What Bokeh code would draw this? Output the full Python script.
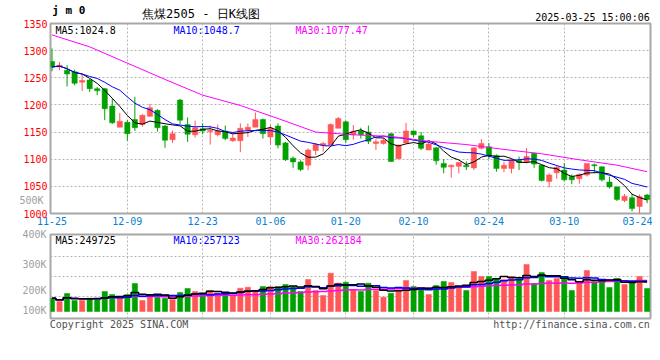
import numpy as np
import pandas as pd
from bokeh.plotting import figure
from bokeh.models import Range1d, FixedTicker, Label, ColumnDataSource, LinearAxis
from bokeh.layouts import column
from bokeh.embed import file_html
from bokeh.resources import INLINE

# ---------------- data ----------------
holidays = ["2025-01-01", "2025-01-28", "2025-01-29", "2025-01-30", "2025-01-31",
            "2025-02-03", "2025-02-04"]
dates = [d for d in pd.bdate_range("2024-11-25", "2025-03-25")
         if d.strftime("%Y-%m-%d") not in holidays]
tick_dates = ["2024-11-25", "2024-12-09", "2024-12-23", "2025-01-06", "2025-01-20",
              "2025-02-10", "2025-02-24", "2025-03-10", "2025-03-24"]

opens = [1280, 1270, 1264, 1261, 1242, 1246, 1230, 1230, 1198, 1159,
         1168, 1173, 1164, 1179, 1190, 1161, 1136, 1209, 1164, 1145,
         1156, 1151, 1145, 1152, 1134, 1134, 1154, 1159, 1173, 1141,
         1161, 1130, 1102, 1095, 1089, 1116, 1126, 1126, 1157, 1169,
         1145, 1152, 1150, 1129, 1129, 1147, 1101, 1130, 1152, 1143,
         1117, 1121, 1092, 1086, 1087, 1089, 1084, 1120, 1123, 1107,
         1083, 1083, 1098, 1095, 1111, 1089, 1059, 1075, 1080, 1068,
         1064, 1071, 1090, 1086, 1058, 1049, 1024, 1029, 1013, 1034]
highs = [1304, 1279, 1273, 1265, 1257, 1248, 1233, 1231, 1212, 1185,
         1172, 1215, 1183, 1202, 1192, 1163, 1153, 1211, 1177, 1171,
         1166, 1162, 1164, 1162, 1148, 1166, 1166, 1186, 1175, 1163,
         1166, 1132, 1105, 1098, 1120, 1130, 1132, 1166, 1178, 1171,
         1163, 1158, 1162, 1137, 1139, 1148, 1127, 1167, 1153, 1150,
         1132, 1122, 1100, 1090, 1095, 1096, 1122, 1137, 1130, 1109,
         1095, 1101, 1105, 1121, 1112, 1090, 1074, 1089, 1093, 1072,
         1074, 1092, 1092, 1087, 1068, 1050, 1036, 1036, 1035, 1036]
lows = [1262, 1264, 1234, 1236, 1226, 1224, 1218, 1172, 1165, 1159,
        1134, 1152, 1160, 1178, 1151, 1121, 1130, 1165, 1132, 1140,
        1146, 1127, 1142, 1135, 1132, 1113, 1141, 1159, 1138, 1127,
        1120, 1097, 1084, 1078, 1080, 1108, 1114, 1126, 1157, 1130,
        1136, 1138, 1128, 1117, 1127, 1095, 1100, 1129, 1140, 1117,
        1117, 1090, 1074, 1066, 1074, 1080, 1080, 1118, 1100, 1077,
        1076, 1074, 1080, 1092, 1084, 1059, 1048, 1064, 1059, 1054,
        1055, 1068, 1074, 1059, 1046, 1023, 1021, 1004, 998, 1019]
closes = [1270, 1273, 1257, 1240, 1245, 1230, 1226, 1193, 1167, 1170,
          1147, 1158, 1181, 1195, 1158, 1135, 1147, 1172, 1146, 1158,
          1152, 1153, 1152, 1138, 1139, 1157, 1159, 1173, 1147, 1157,
          1126, 1099, 1095, 1081, 1117, 1127, 1129, 1164, 1175, 1136,
          1151, 1145, 1133, 1132, 1135, 1096, 1126, 1152, 1145, 1120,
          1128, 1097, 1085, 1089, 1094, 1086, 1121, 1129, 1106, 1083,
          1089, 1099, 1094, 1105, 1091, 1061, 1071, 1085, 1062, 1062,
          1072, 1092, 1088, 1062, 1049, 1026, 1032, 1009, 1031, 1026]
volumes = [113000, 85000, 153000, 94000, 94000, 113000, 102000, 170000, 145000, 108000,
           145000, 238000, 94000, 130000, 122000, 113000, 102000, 162000, 196000, 170000,
           150000, 179000, 156000, 162000, 136000, 198000, 207000, 179000, 213000, 213000,
           213000, 230000, 213000, 170000, 272000, 179000, 136000, 326000, 241000, 249000,
           187000, 170000, 241000, 179000, 122000, 156000, 179000, 264000, 213000, 187000,
           145000, 221000, 255000, 247000, 213000, 179000, 340000, 298000, 298000, 281000,
           272000, 298000, 281000, 400000, 238000, 332000, 264000, 281000, 298000, 179000,
           247000, 349000, 255000, 272000, 204000, 281000, 230000, 247000, 298000, 196000]
# price MA30 at these bars
ma30_bar = [0, 5, 10, 15, 20, 25, 30, 35, 40, 45, 50, 55, 60, 65, 70, 75, 79]
ma30_val = [1329, 1307, 1277, 1247, 1218, 1199, 1175, 1150, 1145, 1142, 1133, 1127,
            1118, 1110, 1099, 1089, 1077]
price_ma_last = ["1024.8", "1048.7", "1077.47"]
vol_ma_last = ["249725", "257123", "262184"]
price_ticks = [1000, 1050, 1100, 1150, 1200, 1250, 1300, 1350]
title_code = "j m 0"
title_text = "焦煤2505 - 日K线图"
stamp = "2025-03-25 15:00:06"
footer = ["Copyright 2025 SINA.COM", "http://finance.sina.com.cn"]

# ---------------- derived ----------------
n = len(closes)
idx = np.arange(n)
o = np.array(opens, float); c = np.array(closes, float)
up = c >= o
RED, GREEN = "#ff5656", "#00a000"
colors = [RED if u else GREEN for u in up]
cs = pd.Series(c)
ma5 = cs.rolling(5, min_periods=1).mean()
ma10 = cs.rolling(10, min_periods=1).mean()
vs = pd.Series(np.array(volumes, float))
vma5 = vs.rolling(5, min_periods=1).mean()
vma10 = vs.rolling(10, min_periods=1).mean()
vma30 = vs.rolling(30, min_periods=1).mean()

date_str = [d.strftime("%Y-%m-%d") for d in dates]
tick_idx = [date_str.index(t) for t in tick_dates]
tick_lbl = {i: t[5:] for i, t in zip(tick_idx, tick_dates)}

MONO = "DejaVu Sans Mono"
GRID = "#b4b4b4"
OUT = "#a8a8a8"
VCOL = "#a0a0a0"
x0, x1 = -0.2, 79.45
W = 652

src = ColumnDataSource(dict(x=idx, high=highs, low=lows,
                            top=np.maximum(o, c), bottom=np.minimum(o, c),
                            vol=volumes, color=colors))

def lab(fig, x, y, text, dx, dy, color="black", size="10px", font=MONO, align="left",
        base="top", style="normal"):
    fig.add_layout(Label(x=x, y=y, x_offset=dx, y_offset=dy, text=text, text_color=color,
                         text_font=font, text_font_size=size, text_align=align,
                         text_baseline=base, text_font_style=style))

def plain_axis(ax, color, standoff, size="10px", font=MONO, style="normal"):
    ax.axis_line_color = None
    ax.major_tick_line_color = None
    ax.minor_tick_line_color = None
    ax.major_tick_out = 0
    ax.major_tick_in = 0
    ax.minor_tick_out = 0
    ax.minor_tick_in = 0
    ax.major_label_text_font = font
    ax.major_label_text_font_size = size
    ax.major_label_text_font_style = style
    ax.major_label_text_color = color
    ax.major_label_standoff = standoff

# ---------------- price panel ----------------
p = figure(width=W, height=228, x_range=Range1d(x0, x1), y_range=Range1d(1000, 1350),
           title=None, output_backend="svg", toolbar_location=None,
           min_border_left=50, min_border_right=2, min_border_top=18, min_border_bottom=15)
p.outline_line_color = OUT
p.outline_line_width = 2
p.xaxis.ticker = FixedTicker(ticks=tick_idx)
p.xaxis.major_label_overrides = tick_lbl
plain_axis(p.xaxis[0], "#0a80d0", 3)
p.yaxis.ticker = FixedTicker(ticks=price_ticks)
plain_axis(p.yaxis[0], "#ff0000", 3)
p.xgrid.ticker = FixedTicker(ticks=tick_idx[1:-1])
p.ygrid.ticker = FixedTicker(ticks=price_ticks[1:-1])
for g in (p.xgrid[0], p.ygrid[0]):
    g.grid_line_color = GRID
    g.grid_line_dash = "2 2"

# header line carried by top axes (positions in bar units); outer axes are
# pulled back onto the same line with negative standoffs
head_stamp = LinearAxis(ticker=FixedTicker(ticks=[71.75]),
                        major_label_overrides={71.75: stamp})
plain_axis(head_stamp, "black", 1)
p.add_layout(head_stamp, "above")
head_title = LinearAxis(ticker=FixedTicker(ticks=[19.78]),
                        major_label_overrides={19.78: title_text})
plain_axis(head_title, "black", -12, size="12px")
p.add_layout(head_title, "above")
head_code = LinearAxis(ticker=FixedTicker(ticks=[2.22]),
                       major_label_overrides={2.22: title_code})
plain_axis(head_code, "black", -13, size="11px", style="bold")
p.add_layout(head_code, "above")

# the volume scale's top label spills into the price panel (Sina layout):
# an outer left axis pulled back under the price labels
spill = LinearAxis(ticker=FixedTicker(ticks=[1023.3]),
                   major_label_overrides={1023.3: "500K"})
plain_axis(spill, VCOL, -23)
p.add_layout(spill, "left")

p.segment(x0="x", y0="low", x1="x", y1="high", line_color="color", line_width=1, source=src)
p.vbar(x="x", width=0.7, top="top", bottom="bottom", fill_color="color",
       line_color="color", line_width=0.5, source=src)
p.line(idx, ma5, line_color="black", line_width=1)
p.line(idx, ma10, line_color="#0000ff", line_width=1)
p.line(ma30_bar, ma30_val, line_color="#ff00ff", line_width=1)

lab(p, x0, 1350, "MA5:" + price_ma_last[0], 5, -1.5, color="black")
lab(p, x0, 1350, "MA10:" + price_ma_last[1], 123, -1.5, color="#0000ff")
lab(p, x0, 1350, "MA30:" + price_ma_last[2], 245, -1.5, color="#ff00ff")

# ---------------- volume panel ----------------
VLO, VHI = -59500, 654500
v = figure(width=W, height=104, x_range=p.x_range, y_range=Range1d(VLO, VHI),
           title=None, output_backend="svg", toolbar_location=None,
           min_border_left=50, min_border_right=2, min_border_top=6, min_border_bottom=14)
v.outline_line_color = OUT
v.outline_line_width = 2

# footer texts carried by the bottom axis
foot_pos = [8.9, 68.96]
v.xaxis.ticker = FixedTicker(ticks=foot_pos)
v.xaxis.major_label_overrides = {t: s for t, s in zip(foot_pos, footer)}
plain_axis(v.xaxis[0], "#505050", 0)

vt = [8500, 178500, 595000]
v.yaxis.ticker = FixedTicker(ticks=vt)
v.yaxis.major_label_overrides = {8500: "100K", 178500: "200K", 595000: "400K\n\n\n300K"}
plain_axis(v.yaxis[0], VCOL, 4)
v.yaxis[0].major_label_text_line_height = 0.91
v.xgrid.ticker = FixedTicker(ticks=tick_idx[1:-1])
v.ygrid.ticker = FixedTicker(ticks=[127500, 297500, 467500])
for g in (v.xgrid[0], v.ygrid[0]):
    g.grid_line_color = GRID
    g.grid_line_dash = "2 2"

v.vbar(x="x", width=0.7, top="vol", bottom=0, fill_color="color", line_color="color",
       line_width=0.5, source=src)
v.step(idx, vma30, mode="center", line_color="#ff00ff", line_width=1.5)
v.step(idx, vma10, mode="center", line_color="#0000ff", line_width=1.5)
v.step(idx, vma5, mode="center", line_color="black", line_width=1.5)

lab(v, x0, VHI, "MA5:" + vol_ma_last[0], 5, 0, color="black")
lab(v, x0, VHI, "MA10:" + vol_ma_last[1], 123, 0, color="#0000ff")
lab(v, x0, VHI, "MA30:" + vol_ma_last[2], 245, 0, color="#ff00ff")

layout = column(p, v, spacing=0)
open("out.html", "w").write(file_html(layout, INLINE))
